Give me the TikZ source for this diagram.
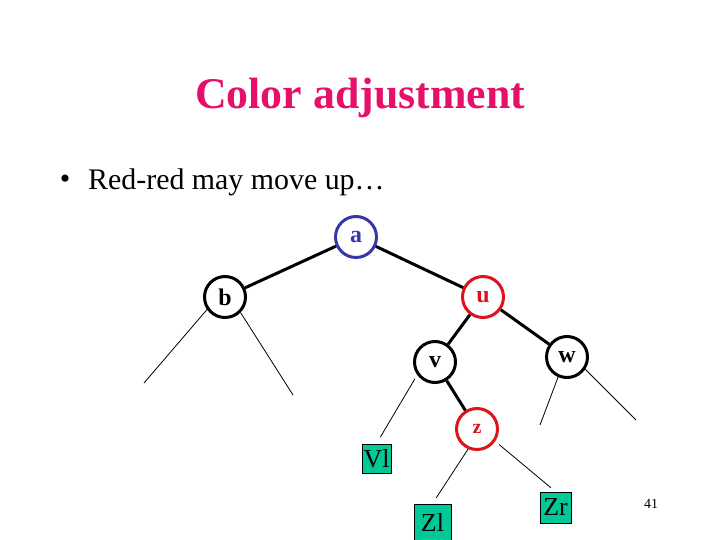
\documentclass[tikz,border=0pt]{standalone}
\usepackage{fontspec}
\setmainfont{Liberation Serif}
\usepackage{tikz}
\usetikzlibrary{shapes}

\definecolor{titlepink}{RGB}{230,15,105}
\definecolor{nodeblue}{RGB}{55,55,170}
\definecolor{nodered}{RGB}{220,20,30}
\definecolor{leafgreen}{RGB}{0,200,150}

\begin{document}
\begin{tikzpicture}[x=1bp, y=-1bp]
    \tikzstyle{rb}=[circle, draw, line width=3bp, minimum size=41bp, inner sep=0pt, fill=white, font=\bfseries\fontsize{24}{24}\selectfont]
    \tikzstyle{leaf}=[rectangle, draw, line width=0.8bp, fill=leafgreen, inner sep=0pt, minimum size=30bp, font=\fontsize{26}{26}\selectfont]
    \tikzstyle{edge}=[line width=3bp]
    \tikzstyle{sub}=[line width=0.8bp]
    \useasboundingbox (0,0) rectangle (720,540);
    % heading
    \node[anchor=base, text=titlepink, font=\bfseries\fontsize{44}{44}\selectfont] (title) at (360,109) {Color adjustment};
    \node[font=\fontsize{30}{30}\selectfont] (bul) at (65,182) {•};
    \node[anchor=base west, inner sep=0pt, font=\fontsize{30}{30}\selectfont] (point) at (88,190) {Red-red may move up…};
    % tree
    \node[rb, draw=nodeblue, text=nodeblue] (a) at (356,237) {a};
    \node[rb] (b) at (225,297) {b};
    \node[rb, draw=nodered, text=nodered] (u) at (483,297) {u};
    \node[rb] (v) at (435,362) {v};
    \node[rb] (w) at (567,357) {w};
    \node[rb, draw=nodered, text=nodered, font=\bfseries\fontsize{20}{20}\selectfont] (z) at (477,429) {z};
    \node[leaf, minimum size=29bp] (Vl) at (376.5,458.5) {Vl};
    \node[leaf, minimum size=37bp] (Zl) at (432.5,522.5) {Zl};
    \node[leaf, minimum size=31bp] (Zr) at (555.5,507.5) {Zr};
    \draw[edge] (a) -- (b);
    \draw[edge] (a) -- (u);
    \draw[edge] (u) -- (v);
    \draw[edge] (u) -- (w);
    \draw[edge] (v) -- (z);
    % subtrees
    \coordinate (bl) at (144,383);
    \coordinate (br) at (293,395);
    \coordinate (wl) at (540,425);
    \coordinate (wr) at (636,420);
    \draw[sub] (b.-145) -- (bl);
    \draw[sub] (b.-45) -- (br);
    \draw[sub] (w.-114) -- (wl);
    \draw[sub] (w.-34) -- (wr);
    \draw[sub, shorten <=4.5bp, shorten >=7.5bp] (v.-144) -- (Vl.north);
    \draw[sub, shorten >=7bp] (z.-114) -- (Zl.north);
    \draw[sub, shorten <=5bp, shorten >=6bp] (z.-34) -- (Zr.north);
    % slide number
    \node[font=\fontsize{14}{14}\selectfont] (num) at (651,504) {41};
\end{tikzpicture}
\end{document}
